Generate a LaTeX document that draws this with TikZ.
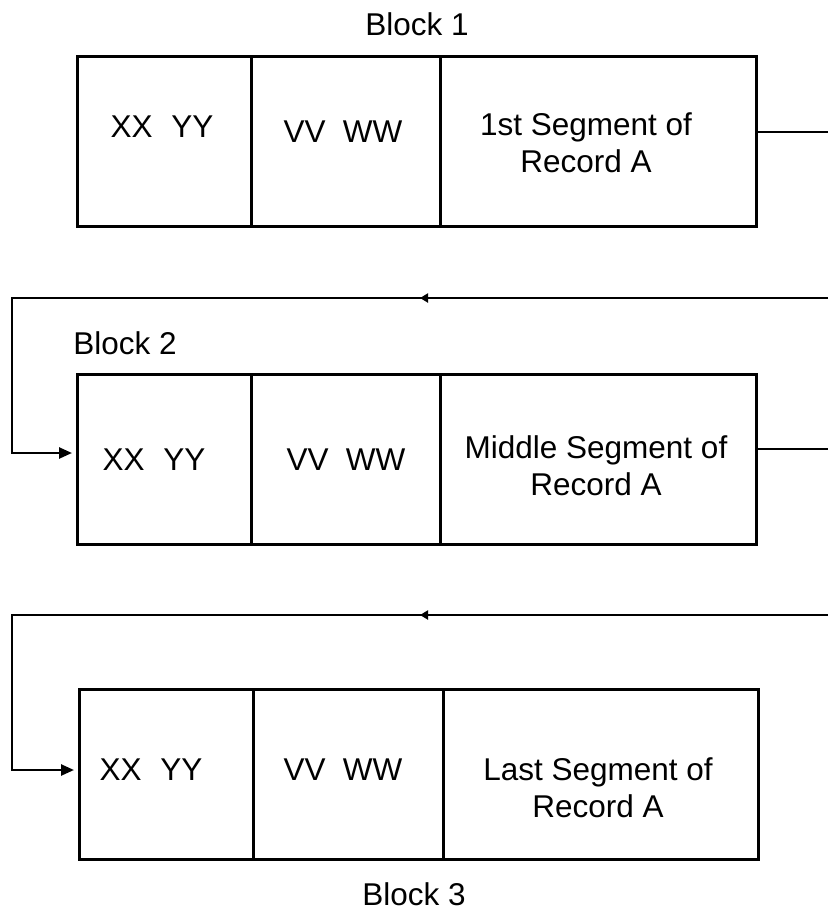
\documentclass[tikz,border=0pt]{standalone}
\usepackage{fontspec}
\setmainfont{Liberation Sans}
\usetikzlibrary{arrows.meta,decorations.markings}
\newcommand{\fs}{\fontsize{31.5}{37.5}\selectfont}
\newcommand{\twoline}[2]{\begin{tabular}[t]{@{}c@{}}#1\\#2\end{tabular}}
\tikzset{
  cell/.style={draw, line width=2.5pt, minimum height=170pt, inner sep=0pt, anchor=north west},
  txt/.style={font=\fs, inner sep=0pt, anchor=base},
  conn/.style={line width=2.5pt},
  endarrow/.style={-{Triangle[length=13pt,width=11pt]}, shorten >=4pt},
  midarrow/.style={postaction={decorate}, decoration={markings, mark=at position 408pt with {\arrow{Triangle[length=8pt,width=9pt]}}}}
}
\begin{document}
\begin{tikzpicture}[x=1pt,y=-1pt]
\useasboundingbox (0,0) rectangle (828,911);
% Block 1
\node[txt] (L1) at (417,35) {Block 1};
\node[cell, minimum width=174pt] (a1) at (76,55) {};
\node[cell, minimum width=189pt] (b1) at (250,55) {};
\node[cell, minimum width=316pt] (c1) at (439,55) {};
\node[txt] (ta1) at (162,137) {XX\hspace{0.6em}YY};
\node[txt] (tb1) at (343,142) {VV\hspace{0.55em}WW};
\node[txt] (tc1) at (586,135) {\twoline{1st Segment of}{Record A}};
% Block 2
\node[txt] (L2) at (125,354) {Block 2};
\node[cell, minimum width=174pt] (a2) at (76,373) {};
\node[cell, minimum width=189pt] (b2) at (250,373) {};
\node[cell, minimum width=316pt] (c2) at (439,373) {};
\node[txt] (ta2) at (154,470) {XX\hspace{0.6em}YY};
\node[txt] (tb2) at (346,470) {VV\hspace{0.55em}WW};
\node[txt] (tc2) at (596,458) {\twoline{Middle Segment of}{Record A}};
% Block 3
\node[cell, minimum width=174pt] (a3) at (78,688) {};
\node[cell, minimum width=190pt] (b3) at (252,688) {};
\node[cell, minimum width=315pt] (c3) at (442,688) {};
\node[txt] (ta3) at (151,780) {XX\hspace{0.6em}YY};
\node[txt] (tb3) at (343,780) {VV\hspace{0.55em}WW};
\node[txt] (tc3) at (598,780) {\twoline{Last Segment of}{Record A}};
\node[txt] (L3) at (414,905) {Block 3};
% connectors
\coordinate (r1) at (828,132);
\coordinate (t1) at (828,298);
\coordinate (l1) at (12,298);
\coordinate (e2) at (12,453);
\draw[conn] (r1 -| c1.east) -- (r1);
\draw[conn, midarrow, endarrow] (t1) -- (l1) -- (e2) -- (e2 -| a2.west);
\coordinate (r2) at (828,449);
\coordinate (t2) at (828,615);
\coordinate (l2) at (12,615);
\coordinate (e3) at (12,770);
\draw[conn] (r2 -| c2.east) -- (r2);
\draw[conn, midarrow, endarrow] (t2) -- (l2) -- (e3) -- (e3 -| a3.west);
\end{tikzpicture}
\end{document}
